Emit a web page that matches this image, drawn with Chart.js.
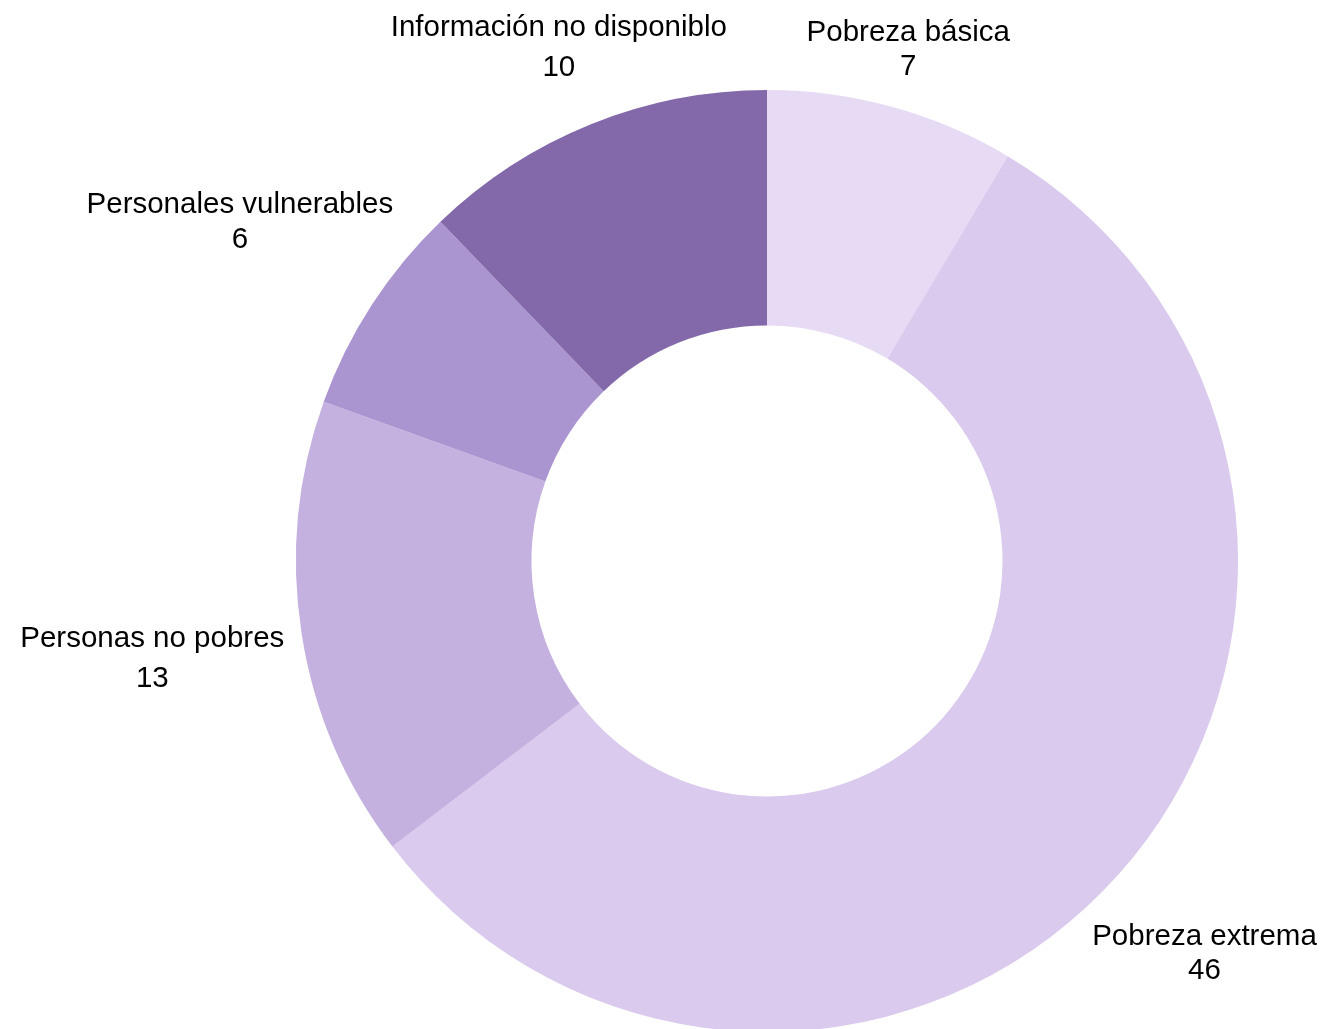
<!DOCTYPE html>
<html>
<head>
<meta charset="utf-8">
<script src="https://cdn.jsdelivr.net/npm/chart.js@4/dist/chart.umd.min.js"></script>
<style>
  html, body { margin: 0; padding: 0; background: #fff; }
  #wrap { width: 1323px; height: 1029px; }
</style>
</head>
<body>
<div id="wrap"><canvas id="donut"></canvas></div>
<script>
const categories = ['Pobreza básica', 'Pobreza extrema', 'Personas no pobres', 'Personales vulnerables', 'Información no disponiblo'];
const values = [7, 46, 13, 6, 10];
const colors = ['#E6DAF5', '#D9CAEE', '#C4B1E0', '#AB95D1', '#8369AA'];

// outside labels: name + value, pushed out from the slice middle
const labelPush = [62, 115, 151, 157, 86];
const labelGap = [34, 34, 40, 35, 40];

const outsideLabels = {
  id: 'outsideLabels',
  afterDatasetsDraw(chart){
    const ctx = chart.ctx;
    const arcs = chart.getDatasetMeta(0).data;
    ctx.save();
    ctx.font = '29.5px "Liberation Sans", Arial, sans-serif';
    ctx.fillStyle = '#000';
    ctx.textAlign = 'center';
    ctx.textBaseline = 'middle';
    arcs.forEach((arc, i) => {
      const mid = (arc.startAngle + arc.endAngle) / 2;
      const r = arc.outerRadius + labelPush[i];
      const x = arc.x + Math.cos(mid) * r;
      const y = arc.y + Math.sin(mid) * r + 3;
      ctx.fillText(categories[i], x, y - labelGap[i] / 2);
      ctx.fillText(String(values[i]), x, y + labelGap[i] / 2);
    });
    ctx.restore();
  }
};

new Chart(document.getElementById('donut').getContext('2d'), {
  type: 'doughnut',
  data: {
    labels: categories,
    datasets: [{
      data: values,
      backgroundColor: colors,
      borderWidth: 0
    }]
  },
  options: {
    responsive: true,
    maintainAspectRatio: false,
    animation: false,
    cutout: '50%',
    radius: 471,
    layout: { padding: { left: 296, right: 85, top: 93, bottom: 0 } },
    plugins: {
      legend: { display: false },
      tooltip: { enabled: false }
    }
  },
  plugins: [outsideLabels]
});
</script>
</body>
</html>
